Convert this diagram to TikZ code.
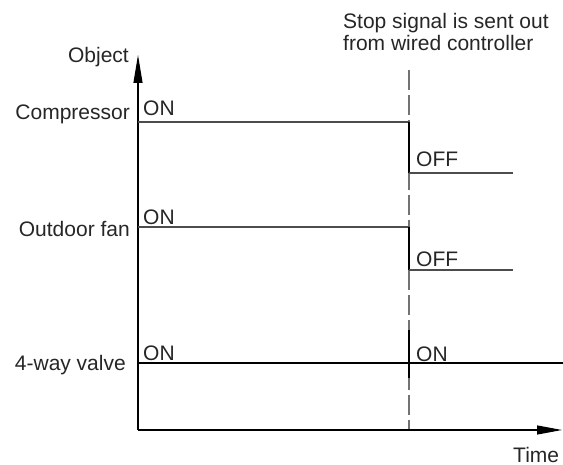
\documentclass[tikz,border=0pt]{standalone}
\usepackage{fontspec}
\setmainfont{Liberation Sans}
\usetikzlibrary{arrows.meta}
\begin{document}
\begin{tikzpicture}[x=1pt,y=-1pt,
  lbl/.style={inner sep=0pt,font=\fontsize{21}{25}\selectfont,text=black!85},
  axis/.style={line width=1.1pt,black},
  sig/.style={line width=1.1pt,black!70},
  dashln/.style={line width=1.1pt,black!55,dash pattern=on 20pt off 5pt},
  edgeln/.style={line width=1.4pt,black}]
\useasboundingbox (0,0) rectangle (563,465);
% axes
\coordinate (o) at (138,430);
\coordinate (ytop) at (138,55);
\coordinate (xend) at (562,430);
% stop line
\coordinate (d0) at (409,70);
\coordinate (d1) at (409,430);
\draw[dashln] (d0) -- (d1);
\draw[axis,-{Triangle[length=28pt,width=9pt]}] (o) -- (ytop);
\draw[axis,-{Triangle[length=25pt,width=9pt]}] (o) -- (xend);
% compressor
\coordinate (c0) at (138,122);
\coordinate (c1) at (409,122);
\coordinate (c2) at (409,173);
\coordinate (c3) at (513,173);
\draw[sig] (c0) -- (c1);
\draw[edgeln] (c1) -- (c2);
\draw[sig] (c2) -- (c3);
% outdoor fan
\coordinate (f0) at (138,227);
\coordinate (f1) at (409,227);
\coordinate (f2) at (409,270);
\coordinate (f3) at (513,270);
\draw[sig] (f0) -- (f1);
\draw[edgeln] (f1) -- (f2);
\draw[sig] (f2) -- (f3);
% 4-way valve
\coordinate (v0) at (138,363);
\coordinate (v1) at (563,363);
\coordinate (v2) at (409,330);
\coordinate (v3) at (409,378);
\draw[axis] (v0) -- (v1);
\draw[edgeln] (v2) -- (v3);
% labels
\node[lbl,anchor=base east] (tobj) at (129,63) {Object};
\node[lbl,anchor=base east] (tcomp) at (130,120) {Compressor};
\node[lbl,anchor=base east] (tfan) at (130,237) {Outdoor fan};
\node[lbl,anchor=base east] (tvalve) at (126,371) {4-way valve};
\node[lbl,anchor=base west] (on1) at (143,116) {ON};
\node[lbl,anchor=base west] (on2) at (143,225) {ON};
\node[lbl,anchor=base west] (on3) at (143,361) {ON};
\node[lbl,anchor=base west] (off1) at (416,167) {OFF};
\node[lbl,anchor=base west] (off2) at (416,267) {OFF};
\node[lbl,anchor=base west] (on4) at (416,362) {ON};
\node[lbl,anchor=base west] (stop1) at (343,29) {Stop signal is sent out};
\node[lbl,anchor=base west] (stop2) at (343,51) {from wired controller};
\node[lbl,anchor=base west] (ttime) at (513,462) {Time};
\end{tikzpicture}
\end{document}
